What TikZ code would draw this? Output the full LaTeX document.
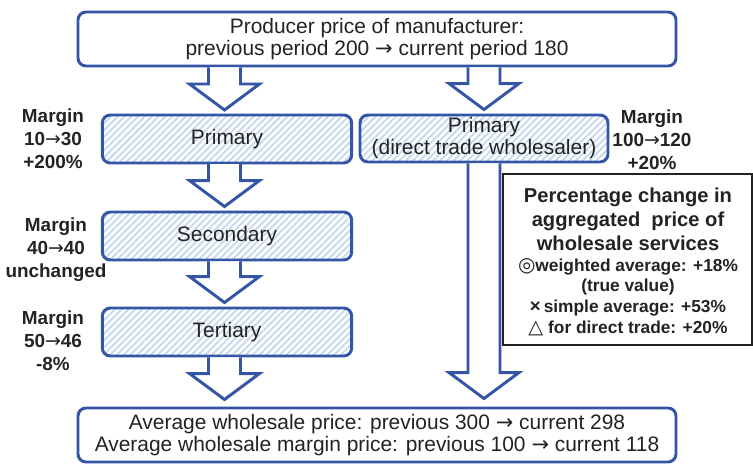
\documentclass[tikz,border=0pt]{standalone}
\usepackage{fontspec}
\setmainfont{Liberation Sans}
\newfontfamily\symfont{DejaVu Sans}
\usetikzlibrary{calc,patterns.meta}
\usepackage{xcolor}

\definecolor{boxblue}{RGB}{52,84,166}
\definecolor{stripeblue}{RGB}{200,218,240}
\definecolor{textgray}{RGB}{35,35,35}

\newcommand{\ra}{{\symfont\mdseries →}}

% hollow block arrow: column, from node, to node, gap above target
\newcommand{\fatarrow}[4]{%
  \draw[fatarr] ($(#1 |- #2.south)+(-16,0)$) -- ($(#1 |- #3.north)+(-16,-#4-26)$)
    -- ($(#1 |- #3.north)+(-35,-#4-26)$) -- ($(#1 |- #3.north)+(0,-#4)$)
    -- ($(#1 |- #3.north)+(35,-#4-26)$) -- ($(#1 |- #3.north)+(16,-#4-26)$)
    -- ($(#1 |- #2.south)+(16,0)$);
}

\begin{document}
\begin{tikzpicture}[x=0.75pt,y=-0.75pt,
  font=\fontsize{15.7}{17}\selectfont,
  mainbox/.style={draw=boxblue, line width=2.2pt, rounded corners=6pt, fill=white,
    text=textgray, align=center, inner sep=0pt},
  stagebox/.style={mainbox, minimum width=187pt, minimum height=36pt,
    pattern={Lines[angle=45,distance=3.6pt,line width=1.5pt]}, pattern color=stripeblue},
  fatarr/.style={draw=boxblue, line width=2.2pt, fill=white, line join=miter},
  marginlbl/.style={font=\fontsize{14.2}{17.2}\selectfont\bfseries, text=textgray,
    align=center, inner sep=0pt}]

\useasboundingbox (0,0) rectangle (753,465);

% Producer price (top)
\node[mainbox, minimum width=448.5pt, minimum height=40.5pt] (producer) at (377,39)
  {Producer price of manufacturer:\\previous period 200 \ra{} current period 180};

% Wholesale stages, left column
\node[stagebox] (primary) at (227,139) {Primary};
\node[stagebox] (secondary) at (227,236) {Secondary};
\node[stagebox] (tertiary) at (227,332) {Tertiary};

% Direct trade wholesaler, right column
\node[stagebox, minimum width=186pt, minimum height=35.25pt,
  font=\fontsize{15.7}{16.5}\selectfont] (direct) at (484,138.5)
  {Primary\\(direct trade wholesaler)};

% Average wholesale price (bottom)
\node[mainbox, minimum width=448.5pt, minimum height=40.5pt] (average) at (377,435)
  {Average wholesale price: previous 300 \ra{} current 298\\
   Average wholesale margin price: previous 100 \ra{} current 118};

% Arrows
\coordinate (colL) at (224.5,0);
\coordinate (colR) at (484,0);
\fatarrow{colL}{producer}{primary}{4}
\fatarrow{colR}{producer}{direct}{4}
\fatarrow{colL}{primary}{secondary}{4}
\fatarrow{colL}{secondary}{tertiary}{4}
\fatarrow{colL}{tertiary}{average}{7}
\fatarrow{colR}{direct}{average}{8}

% Margin labels
\node[marginlbl] (mprimary) at (53,139) {Margin\\10\ra30\\+200\%};
\node[marginlbl] (msecondary) at (56,250) {Margin\\40\ra40\\unchanged};
\node[marginlbl] (mtertiary) at (53,341) {Margin\\50\ra46\\-8\%};
\node[marginlbl] (mdirect) at (652,140) {Margin\\100\ra120\\+20\%};

% Summary box
\node[draw=textgray, line width=1.2pt, fill=white, minimum width=186.75pt,
  minimum height=128.25pt, inner sep=0pt] (summary) at (627.5,259.5) {};
\node[font=\fontsize{15.1}{18}\selectfont\bfseries, text=textgray, align=center,
  inner sep=0pt] (sumhead) at (628,219)
  {Percentage change in\\aggregated~ price of\\wholesale services};
\node[font=\fontsize{13}{15.5}\selectfont\bfseries, text=textgray, align=center,
  inner sep=0pt] (sumlist) at (628,297)
  {{\symfont\fontsize{15}{15.5}\selectfont ◎}weighted average: +18\%\\(true value)\\
   {\fontsize{14}{15.5}\selectfont ×}\,simple average: +53\%\\
   {\symfont\fontsize{14.5}{15.5}\selectfont △} for direct trade: +20\%};

\end{tikzpicture}
\end{document}
